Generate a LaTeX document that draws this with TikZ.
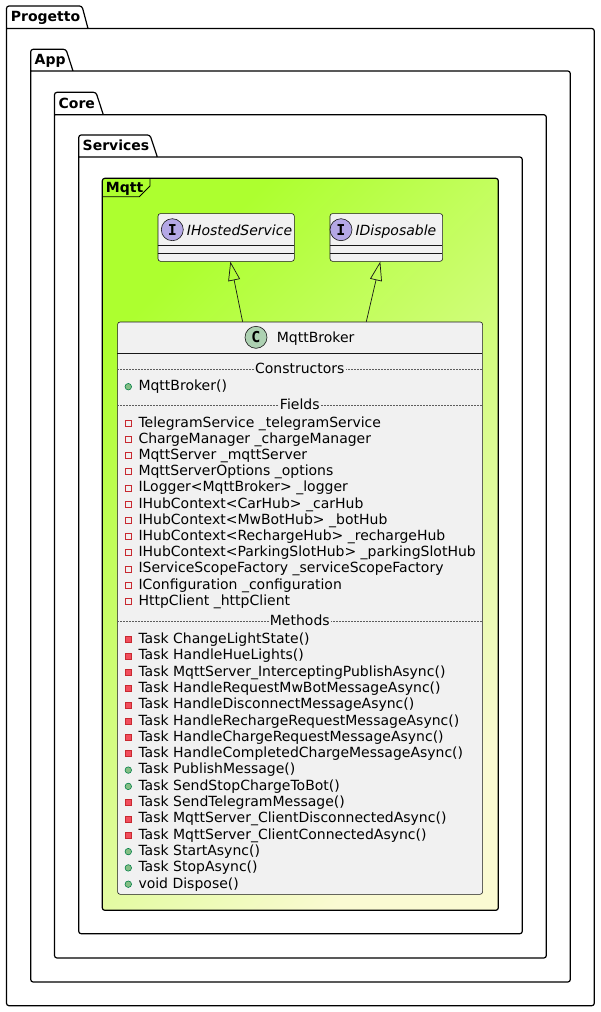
\documentclass[tikz,border=0pt]{standalone}
\usepackage{fontspec}
\setmainfont{DejaVu Sans}
\newfontfamily\spotfont{DejaVu Sans Mono}
\usetikzlibrary{arrows.meta}

\definecolor{umlbg}{HTML}{F1F1F1}
\definecolor{umlline}{HTML}{181818}
\definecolor{mqttgreen}{HTML}{ADFF2F}
\definecolor{mqttyellow}{HTML}{FAFAD2}
\definecolor{privred}{HTML}{C82930}
\definecolor{privfill}{HTML}{F24D5C}
\definecolor{pubgreen}{HTML}{038048}
\definecolor{pubfill}{HTML}{84BE84}
\definecolor{classspot}{HTML}{ADD1B2}
\definecolor{ifacespot}{HTML}{B4A7E5}

\tikzset{
  pkg/.style={draw=black, line width=1.2pt, rounded corners=2.5pt},
  pkglabel/.style={anchor=base west, inner sep=0pt, font=\fontsize{14}{16}\selectfont\bfseries},
  umlbox/.style={draw=umlline, line width=0.6pt, fill=umlbg, rounded corners=2.5pt, anchor=north west, inner sep=0pt},
  spot/.style={circle, draw=umlline, line width=0.6pt, minimum size=22pt, inner sep=0pt, font=\fontsize{15}{16}\selectfont\spotfont\bfseries},
  member/.style={anchor=base west, inner sep=0pt, font=\fontsize{14}{16}\selectfont},
  septitle/.style={anchor=base, fill=umlbg, inner xsep=1pt, inner ysep=0pt, font=\fontsize{14}{16}\selectfont},
  sepline/.style={draw=umlline!70, line width=0.5pt, dash pattern=on 1.5pt off 1.5pt},
  privfield/.style={draw=privred, line width=0.7pt, minimum size=6pt, inner sep=0pt},
  privmeth/.style={draw=privred, fill=privfill, line width=0.7pt, minimum size=6pt, inner sep=0pt},
  pubmeth/.style={circle, draw=pubgreen, fill=pubfill, line width=0.6pt, minimum size=6.5pt, inner sep=0pt},
  realize/.style={draw=umlline, line width=0.7pt, -{Triangle[open, length=19pt, width=12pt]}},
}

% one row of the class: name, baseline, visibility style, text
\newcommand{\member}[4]{%
  \node[#3] (#1-vis) at (128.3,#2-3.8) {};
  \node[member] (#1) at (138.3,#2) {#4};}

\begin{document}
\begin{tikzpicture}[x=1pt, y=-1pt]
  \useasboundingbox (0,0) rectangle (600,1012);

  % nested packages
  \draw[pkg] (6.5,28.5) -- (594.3,28.5) -- (594.3,1005.7) -- (6.5,1005.7) -- (6.5,6) -- (82,6) -- (88,28.5);
  \node[pkglabel] (progetto) at (10.7,21.8) {Progetto};
  \draw[pkg] (30.7,71) -- (570.3,71) -- (570.3,982) -- (30.7,982) -- (30.7,49.3) -- (66,49.3) -- (73,71);
  \node[pkglabel] (app) at (34.5,64.6) {App};
  \draw[pkg] (54.5,114.7) -- (546.3,114.7) -- (546.3,958) -- (54.5,958) -- (54.5,92.3) -- (96,92.3) -- (103.3,114.7);
  \node[pkglabel] (core) at (58.5,108.2) {Core};
  \draw[pkg] (78.7,157) -- (522.3,157) -- (522.3,933.7) -- (78.7,933.7) -- (78.7,135) -- (150,135) -- (157.3,157);
  \node[pkglabel] (services) at (82.5,150.6) {Services};

  % Mqtt frame
  \draw[line width=1.2pt, rounded corners=2.5pt, top color=mqttgreen, bottom color=mqttyellow, shading angle=45]
    (102.3,178.3) rectangle (498.3,910.3);
  \draw[line width=0.8pt] (102.3,196.7) -- (139.3,196.7) -- (150,186) -- (150,178.3);
  \node[pkglabel] (mqtt) at (105.7,192.3) {Mqtt};

  % interfaces
  \node[umlbox, minimum width=136.3pt, minimum height=47.7pt] (ihs) at (157.7,213.3) {};
  \draw[umlline, line width=0.6pt] (157.7,245.3) -- (294,245.3) (157.7,253.3) -- (294,253.3);
  \node[spot, fill=ifacespot] (ihs-spot) at (172.3,229.7) {I};
  \node[member, font=\fontsize{14}{16}\selectfont\itshape] (ihs-name) at (186.7,235) {IHostedService};

  \node[umlbox, minimum width=112.6pt, minimum height=47.7pt] (idisp) at (329.7,213.3) {};
  \draw[umlline, line width=0.6pt] (329.7,245.3) -- (442.3,245.3) (329.7,253.3) -- (442.3,253.3);
  \node[spot, fill=ifacespot] (idisp-spot) at (341,229.7) {I};
  \node[member, font=\fontsize{14}{16}\selectfont\itshape] (idisp-name) at (355.3,235) {IDisposable};

  % class
  \node[umlbox, minimum width=365pt, minimum height=572.3pt] (broker) at (117.3,321.7) {};
  \node[spot, fill=classspot] (broker-spot) at (256,337.3) {C};
  \node[member] (broker-name) at (276.7,342.5) {MqttBroker};
  \draw[umlline, line width=0.6pt] (117.3,353.3) -- (482.3,353.3);

  \draw[sepline] (117.3,369.3) -- (482.3,369.3);
  \node[septitle] (ctors) at (299.8,373.5) {Constructors};
  \member{ctor}{390.5}{pubmeth}{MqttBroker()}

  \draw[sepline] (117.3,405.3) -- (482.3,405.3);
  \node[septitle] (fields) at (299.8,409.5) {Fields};
  \member{f1}{427}{privfield}{TelegramService \_telegramService}
  \member{f2}{443.2}{privfield}{ChargeManager \_chargeManager}
  \member{f3}{459.4}{privfield}{MqttServer \_mqttServer}
  \member{f4}{475.6}{privfield}{MqttServerOptions \_options}
  \member{f5}{491.8}{privfield}{ILogger<MqttBroker> \_logger}
  \member{f6}{508}{privfield}{IHubContext<CarHub> \_carHub}
  \member{f7}{524.2}{privfield}{IHubContext<MwBotHub> \_botHub}
  \member{f8}{540.4}{privfield}{IHubContext<RechargeHub> \_rechargeHub}
  \member{f9}{556.6}{privfield}{IHubContext<ParkingSlotHub> \_parkingSlotHub}
  \member{f10}{572.8}{privfield}{IServiceScopeFactory \_serviceScopeFactory}
  \member{f11}{589}{privfield}{IConfiguration \_configuration}
  \member{f12}{605.2}{privfield}{HttpClient \_httpClient}

  \draw[sepline] (117.3,621.3) -- (482.3,621.3);
  \node[septitle] (methods) at (299.8,625.5) {Methods};
  \member{m1}{643.6}{privmeth}{Task ChangeLightState()}
  \member{m2}{659.9}{privmeth}{Task HandleHueLights()}
  \member{m3}{676.2}{privmeth}{Task MqttServer\_InterceptingPublishAsync()}
  \member{m4}{692.5}{privmeth}{Task HandleRequestMwBotMessageAsync()}
  \member{m5}{708.8}{privmeth}{Task HandleDisconnectMessageAsync()}
  \member{m6}{725.1}{privmeth}{Task HandleRechargeRequestMessageAsync()}
  \member{m7}{741.3}{privmeth}{Task HandleChargeRequestMessageAsync()}
  \member{m8}{757.6}{privmeth}{Task HandleCompletedChargeMessageAsync()}
  \member{m9}{773.9}{pubmeth}{Task PublishMessage()}
  \member{m10}{790.2}{pubmeth}{Task SendStopChargeToBot()}
  \member{m11}{806.5}{privmeth}{Task SendTelegramMessage()}
  \member{m12}{822.8}{privmeth}{Task MqttServer\_ClientDisconnectedAsync()}
  \member{m13}{839.1}{privmeth}{Task MqttServer\_ClientConnectedAsync()}
  \member{m14}{855.4}{pubmeth}{Task StartAsync()}
  \member{m15}{871.7}{pubmeth}{Task StopAsync()}
  \member{m16}{888}{pubmeth}{void Dispose()}

  % realizations
  \draw[realize] ([xshift=-57.5pt]broker.north) -- ([xshift=4.2pt]ihs.south);
  \draw[realize] ([xshift=66.2pt]broker.north) -- ([xshift=-6pt]idisp.south);
\end{tikzpicture}
\end{document}
